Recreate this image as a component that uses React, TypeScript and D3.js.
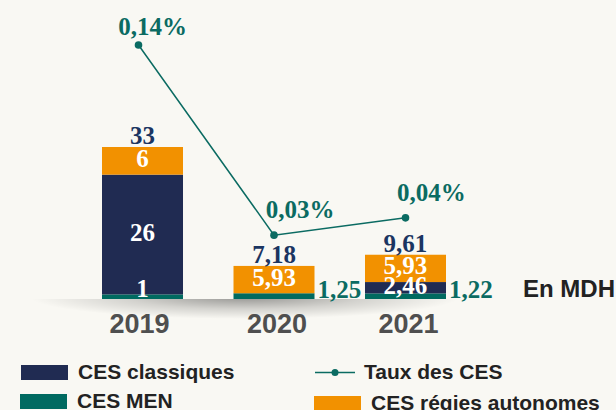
import React, { useEffect, useRef } from "react";
import * as d3 from "d3";

const years = ["2019", "2020", "2021"];
const cesMen = [1, 1.25, 1.22];
const cesClassiques = [26, 0, 2.46];
const cesRegies = [6, 5.93, 5.93];
const totals = ["33", "7,18", "9,61"];
const tauxCes = [0.14, 0.03, 0.04];
const tauxLabels = ["0,14%", "0,03%", "0,04%"];
const menLabels = ["1", "1,25", "1,22"];
const classiquesLabels = ["26", "", "2,46"];
const regiesLabels = ["6", "5,93", "5,93"];

const NAVY = "#202b52";
const TEAL = "#006a60";
const ORANGE = "#f29100";
const LINE = "#0b6b62";
const SERIF = "'Liberation Serif', 'DejaVu Serif', serif";
const SANS = "'Liberation Sans', Arial, sans-serif";

const App = () => {
  const ref = useRef<HTMLDivElement>(null);

  useEffect(() => {
    document.body.style.margin = "0";
    const width = 616;
    const height = 410;
    d3.select(ref.current).selectAll("*").remove();
    const svg = d3
      .select(ref.current)
      .append("svg")
      .attr("width", width)
      .attr("height", height)
      .style("display", "block");

    svg.append("rect").attr("width", width).attr("height", height).attr("fill", "#f9f8f3");

    const x = d3.scaleBand().domain(years).range([102, 446]).paddingInner(0.384);
    const y = d3.scaleLinear().domain([0, 33]).range([299, 147]);
    const yRate = d3.scaleLinear().domain([0, 0.14]).range([287, 45]);
    const base = y(0);

    // soft shadow under the baseline
    const defs = svg.append("defs");
    const grad = defs.append("radialGradient").attr("id", "shadow");
    grad.append("stop").attr("offset", "0%").attr("stop-color", "#000").attr("stop-opacity", 0.4);
    grad.append("stop").attr("offset", "55%").attr("stop-color", "#000").attr("stop-opacity", 0.15);
    grad.append("stop").attr("offset", "100%").attr("stop-color", "#000").attr("stop-opacity", 0);
    defs
      .append("clipPath")
      .attr("id", "below")
      .append("rect")
      .attr("x", 0)
      .attr("y", base)
      .attr("width", width)
      .attr("height", 40);
    svg
      .append("ellipse")
      .attr("cx", 245)
      .attr("cy", base - 2)
      .attr("rx", 215)
      .attr("ry", 22)
      .attr("fill", "url(#shadow)")
      .attr("clip-path", "url(#below)");

    // stacked bars
    const rows = years.map((yr, i) => ({
      year: yr,
      men: cesMen[i],
      classiques: cesClassiques[i],
      regies: cesRegies[i],
    }));
    const keys = ["men", "classiques", "regies"];
    const colors: Record<string, string> = { men: TEAL, classiques: NAVY, regies: ORANGE };
    const stack = d3.stack<any>().keys(keys)(rows);

    stack.forEach((layer) => {
      svg
        .append("g")
        .selectAll("rect")
        .data(layer)
        .enter()
        .append("rect")
        .attr("x", (d: any) => x(d.data.year)!)
        .attr("width", x.bandwidth())
        .attr("y", (d) => y(d[1]))
        .attr("height", (d) => y(d[0]) - y(d[1]))
        .attr("fill", colors[layer.key]);
    });

    const cx = (i: number) => x(years[i])! + x.bandwidth() / 2;
    const serifText = (g: any) =>
      g.attr("font-family", SERIF).attr("font-weight", "bold").attr("font-size", 25);

    // segment labels
    const segLabels: Record<string, string[]> = { classiques: classiquesLabels, regies: regiesLabels };
    stack.forEach((layer) => {
      if (layer.key === "men") return;
      layer.forEach((d, i) => {
        const txt = segLabels[layer.key][i];
        if (!txt) return;
        serifText(svg.append("text"))
          .attr("x", cx(i))
          .attr("y", (y(d[0]) + y(d[1])) / 2 + 6)
          .attr("text-anchor", "middle")
          .attr("fill", "#fff")
          .text(txt);
      });
    });

    // CES MEN labels
    stack[0].forEach((d, i) => {
      const t = serifText(svg.append("text")).text(menLabels[i]);
      if (i === 0) {
        t.attr("x", cx(i)).attr("y", base - 2).attr("text-anchor", "middle").attr("fill", "#fff");
      } else {
        t.attr("x", x(years[i])! + x.bandwidth() + 3).attr("y", base - 1).attr("fill", LINE);
      }
    });

    // totals
    stack[2].forEach((d, i) => {
      serifText(svg.append("text"))
        .attr("x", cx(i))
        .attr("y", y(d[1]) - 3)
        .attr("text-anchor", "middle")
        .attr("fill", "#1b3561")
        .text(totals[i]);
    });

    // rate line
    const line = d3
      .line<number>()
      .x((_, i) => cx(i) - (i === 0 ? 4 : 0))
      .y((d) => yRate(d));
    svg
      .append("path")
      .datum(tauxCes)
      .attr("d", line)
      .attr("fill", "none")
      .attr("stroke", LINE)
      .attr("stroke-width", 1.5);
    svg
      .append("g")
      .selectAll("circle")
      .data(tauxCes)
      .enter()
      .append("circle")
      .attr("cx", (_, i) => cx(i) - (i === 0 ? 4 : 0))
      .attr("cy", (d) => yRate(d))
      .attr("r", 3.8)
      .attr("fill", LINE);
    tauxCes.forEach((v, i) => {
      serifText(svg.append("text"))
        .attr("x", cx(i) + (i === 0 ? 10 : 26))
        .attr("y", yRate(v) - (i === 0 ? 10 : 17))
        .attr("text-anchor", "middle")
        .attr("fill", LINE)
        .text(tauxLabels[i]);
    });

    // year axis
    years.forEach((yr, i) => {
      svg
        .append("text")
        .attr("x", cx(i) + (i === 0 ? -3 : 3))
        .attr("y", 333)
        .attr("text-anchor", "middle")
        .attr("font-family", SANS)
        .attr("font-weight", "bold")
        .attr("font-size", 27)
        .attr("fill", "#4f4f4f")
        .text(yr);
    });

    svg
      .append("text")
      .attr("x", 523)
      .attr("y", 297)
      .attr("font-family", SANS)
      .attr("font-weight", "bold")
      .attr("font-size", 24)
      .attr("fill", "#222")
      .text("En MDH");

    // legend
    const legend = [
      { label: "CES classiques", color: NAVY, lx: 21, ly: 365, type: "rect" },
      { label: "CES MEN", color: TEAL, lx: 20, ly: 394, type: "rect" },
      { label: "Taux des CES", color: LINE, lx: 315, ly: 365, type: "line" },
      { label: "CES régies autonomes", color: ORANGE, lx: 314, ly: 396, type: "rect" },
    ];
    legend.forEach((l) => {
      if (l.type === "rect") {
        svg.append("rect").attr("x", l.lx).attr("y", l.ly).attr("width", 47).attr("height", 15).attr("fill", l.color);
      } else {
        svg
          .append("line")
          .attr("x1", l.lx)
          .attr("x2", l.lx + 40)
          .attr("y1", l.ly + 7.5)
          .attr("y2", l.ly + 7.5)
          .attr("stroke", l.color)
          .attr("stroke-width", 1.5);
        svg.append("circle").attr("cx", l.lx + 20).attr("cy", l.ly + 7.5).attr("r", 3.5).attr("fill", l.color);
      }
      svg
        .append("text")
        .attr("x", l.lx + (l.type === "rect" ? 57 : 49))
        .attr("y", l.ly + 14)
        .attr("font-family", SANS)
        .attr("font-weight", "bold")
        .attr("font-size", 21)
        .attr("fill", "#222")
        .text(l.label);
    });
  }, []);

  return <div ref={ref}></div>;
};

export default App;
